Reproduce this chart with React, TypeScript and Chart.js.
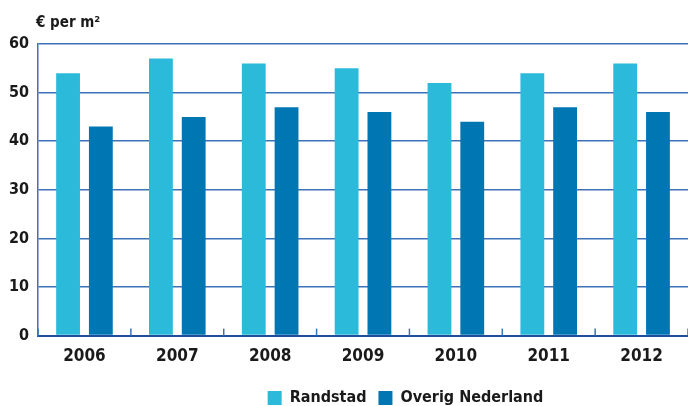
import React, { useEffect, useRef } from "react";
import { Chart, registerables } from "chart.js";

Chart.register(...registerables);

const years = ["2006", "2007", "2008", "2009", "2010", "2011", "2012"];
const randstad = [54, 57, 56, 55, 52, 54, 56];
const overigNederland = [43, 45, 47, 46, 44, 47, 46];
const yTicks = [0, 10, 20, 30, 40, 50, 60];
const unitLabel = "€ per m²";

const FONT = "'Liberation Sans Narrow', 'DejaVu Sans Condensed', sans-serif";

// Unit label above the value axis and short inward tick marks between year groups
const decorations = {
  id: "decorations",
  afterLayout(chart: any) {
    // nudge the legend to the right of the canvas centre
    if (chart.legend) {
      chart.legend.left += 60;
      chart.legend.right += 60;
    }
  },
  afterDraw(chart: any) {
    const { ctx, chartArea, scales } = chart;
    const x = scales.x;
    const step = x.getPixelForValue(1) - x.getPixelForValue(0);
    ctx.save();
    ctx.strokeStyle = "#3C73B8";
    ctx.lineWidth = 1.5;
    for (let i = 0; i <= years.length; i++) {
      const px = x.getPixelForValue(0) - step / 2 + i * step;
      ctx.beginPath();
      ctx.moveTo(px, chartArea.bottom);
      ctx.lineTo(px, chartArea.bottom - 7);
      ctx.stroke();
    }
    ctx.fillStyle = "#1a1a1a";
    ctx.font = `bold 15px ${FONT}`;
    ctx.textAlign = "left";
    ctx.textBaseline = "alphabetic";
    ctx.fillText(unitLabel, chartArea.left - 2, 27);
    ctx.restore();
  },
};

export default function App() {
  const ref = useRef<HTMLCanvasElement>(null);

  useEffect(() => {
    const chart = new Chart(ref.current!, {
      type: "bar",
      data: {
        labels: years,
        datasets: [
          {
            label: "Randstad",
            data: randstad,
            backgroundColor: "#2CBADB",
            categoryPercentage: 0.706,
            barPercentage: 0.727,
          },
          {
            label: "Overig Nederland",
            data: overigNederland,
            backgroundColor: "#0077B3",
            categoryPercentage: 0.706,
            barPercentage: 0.727,
          },
        ],
      },
      options: {
        animation: false,
        responsive: false,
        layout: { padding: { top: 44, right: -3, left: 0, bottom: -10 } },
        plugins: {
          tooltip: { enabled: false },
          legend: {
            position: "bottom",
            labels: {
              boxWidth: 14,
              boxHeight: 14,
              padding: 12,
              color: "#1a1a1a",
              font: { family: FONT, size: 16, weight: "bold" },
            },
          },
        },
        scales: {
          x: {
            grid: { display: false, drawTicks: false },
            border: { display: true, color: "#1F4F9C", width: 2 },
            ticks: {
              color: "#1a1a1a",
              padding: 11,
              font: { family: FONT, size: 17, weight: "bold" },
            },
          },
          y: {
            min: 0,
            max: 60,
            afterBuildTicks: (axis: any) => {
              axis.ticks = yTicks.map((v) => ({ value: v }));
            },
            grid: { color: "#3C73B8", lineWidth: 1.5, drawTicks: false },
            border: { display: true, color: "#3C73B8", width: 1.5 },
            ticks: {
              color: "#1a1a1a",
              padding: 9,
              font: { family: FONT, size: 16, weight: "bold" },
            },
          },
        },
      },
      plugins: [decorations],
    });
    return () => chart.destroy();
  }, []);

  return (
    <div style={{ position: "fixed", left: 0, top: 0, width: 688, height: 406, background: "#fff" }}>
      <canvas ref={ref} width={688} height={406} />
    </div>
  );
}
